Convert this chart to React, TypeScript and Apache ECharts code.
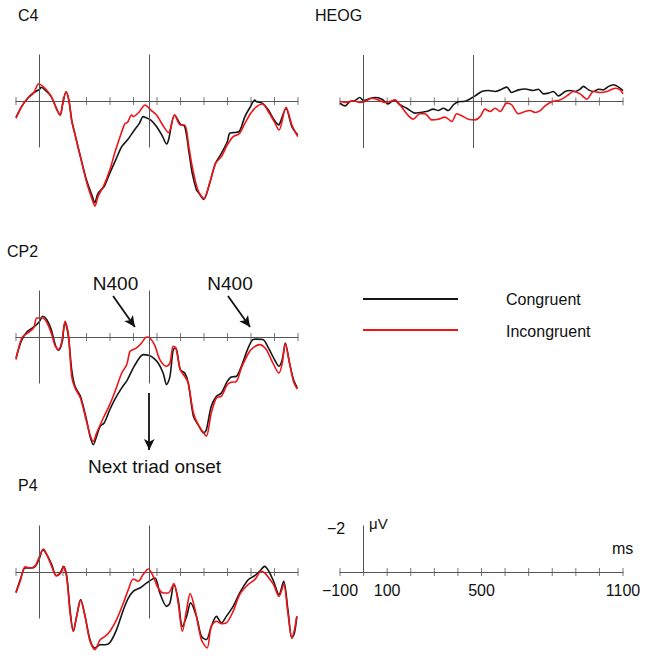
import React, { useEffect, useRef } from "react";
import * as echarts from "echarts";

// ---- data (time in ms, amplitude in µV; negative plotted up) ----
const tickTimes = [-100, 0, 100, 200, 300, 400, 500, 600, 700, 800, 900, 1000, 1100];
const scaleLabels = [-100, 100, 500, 1100];
const triadOnset = 467;
const verticalHalfSpan = 2; // µV

const c4Congruent: [number, number][] = [
  [-100, 0.7], [-75, 0.22], [-51, -0.11], [-25, -0.36], [0, -0.5], [7, -0.59], [24, -0.47], [50, -0.19],
  [75, 0.39], [88, 0.6], [99, 0.1], [113, -0.39], [125, -0.04], [137, 0.82], [150, 1.39], [174, 2.39],
  [200, 3.4], [225, 4.11], [235, 4.37], [249, 3.97], [275, 3.68], [299, 3.11], [324, 2.54], [350, 1.96],
  [374, 1.68], [399, 1.32], [425, 0.96], [441, 0.67], [449, 0.7], [474, 0.82], [498, 1.1], [524, 1.53],
  [541, 1.85], [549, 1.68], [575, 0.6], [599, 0.99], [618, 1.1], [636, 2.2], [650, 3.11], [668, 3.83],
  [674, 3.9], [699, 4.23], [724, 3.54], [749, 2.68], [774, 2.25], [799, 1.75], [809, 1.39], [824, 1.36],
  [849, 1.32], [874, 0.67], [899, 0.22], [916, -0.04], [924, 0.03], [949, 0.1], [974, 0.39], [999, 0.82],
  [1019, 1.03], [1024, 0.93], [1049, 0.32], [1074, 1.1], [1099, 1.46],
];
const c4Incongruent: [number, number][] = [
  [-100, 0.75], [-75, 0.22], [-51, -0.11], [-25, -0.33], [-4, -0.73], [24, -0.54], [50, -0.19], [75, 0.39],
  [88, 0.6], [99, 0.1], [113, -0.4], [125, -0.04], [137, 0.85], [150, 1.39], [174, 2.39], [200, 3.47],
  [225, 4.26], [236, 4.52], [249, 4.11], [275, 3.61], [299, 2.97], [324, 2.11], [350, 1.32], [364, 0.96],
  [374, 0.93], [392, 0.6], [399, 0.67], [425, 0.46], [449, 0.17], [474, 0.39], [498, 0.6], [524, 1.03],
  [549, 1.36], [575, 0.6], [599, 1.03], [618, 1.03], [636, 2.0], [650, 2.82], [674, 3.83], [699, 4.19],
  [724, 3.54], [749, 2.68], [774, 2.39], [799, 1.89], [824, 1.53], [849, 1.42], [874, 0.96], [899, 0.53],
  [924, 0.24], [949, 0.13], [974, 0.46], [999, 0.89], [1019, 1.25], [1049, 0.27], [1074, 1.03], [1099, 1.53],
];

const heogCongruent: [number, number][] = [
  [-100, 0.07], [-79, 0.19], [-58, 0], [-37, -0.04], [-16, -0.17], [0, -0.04], [27, -0.13], [48, -0.17],
  [76, -0.11], [105, 0.1], [119, 0], [133, -0.04], [154, 0.14], [183, 0.29], [218, 0.5], [239, 0.47],
  [267, 0.43], [296, 0.33], [317, 0.39], [338, 0.29], [359, 0.39], [381, 0.14], [402, 0.01], [430, -0.01],
  [451, -0.11], [473, -0.24], [501, -0.43], [529, -0.47], [558, -0.43], [586, -0.53], [607, -0.62],
  [628, -0.39], [657, -0.5], [685, -0.54], [720, -0.47], [741, -0.53], [763, -0.33], [784, -0.36],
  [805, -0.43], [826, -0.24], [855, -0.43], [876, -0.47], [897, -0.43], [918, -0.53], [932, -0.65],
  [954, -0.5], [975, -0.43], [996, -0.53], [1017, -0.5], [1039, -0.65], [1060, -0.72], [1081, -0.62], [1100, -0.47],
];
const heogIncongruent: [number, number][] = [
  [-100, 0], [-72, 0.04], [-44, -0.03], [-16, 0.04], [6, 0], [34, -0.14], [62, -0.07], [91, 0.04],
  [112, 0], [133, -0.07], [154, 0.14], [183, 0.53], [211, 0.76], [239, 0.53], [260, 0.53], [289, 0.79],
  [317, 0.76], [345, 0.67], [374, 0.86], [395, 0.53], [423, 0.65], [444, 0.76], [473, 0.79], [494, 0.65],
  [515, 0.33], [536, 0.43], [558, 0.29], [579, 0.43], [607, 0.07], [628, 0.14], [657, 0.53], [685, 0.43],
  [706, 0.39], [727, 0.47], [749, 0.39], [770, 0.19], [798, 0.01], [833, -0.07], [862, -0.24], [890, -0.43],
  [918, -0.33], [947, -0.1], [975, -0.43], [1003, -0.39], [1032, -0.43], [1067, -0.57], [1088, -0.5], [1100, -0.33],
];

const cp2Congruent: [number, number][] = [
  [-100, 0.9], [-75, 0.11], [-51, -0.24], [-25, -0.42], [0, -0.67], [14, -0.89], [31, -0.75], [50, -0.32],
  [67, 0.33], [81, 0.57], [95, 0.26], [109, -0.63], [123, -0.03], [137, 1.41], [151, 2.12], [174, 2.55],
  [200, 3.56], [215, 4.27], [229, 4.63], [243, 4.27], [258, 3.84], [275, 3.7], [299, 3.13], [324, 2.62],
  [350, 2.19], [374, 1.84], [399, 1.33], [425, 0.9], [441, 0.76], [467, 0.8], [484, 0.9], [505, 1.12],
  [526, 1.55], [541, 2.05], [555, 1.7], [569, 0.54], [580, 0.47], [599, 1.41], [618, 1.55], [633, 1.98],
  [655, 3.41], [675, 3.77], [699, 4.13], [710, 3.99], [731, 2.98], [753, 2.55], [774, 2.41], [799, 1.91],
  [816, 1.72], [838, 1.69], [859, 1.26], [888, 0.47], [908, 0.11], [923, 0.09], [951, 0.11], [974, 0.47],
  [1000, 0.97], [1019, 1.26], [1033, 0.97], [1046, 0.26], [1064, 1.12], [1081, 1.84], [1097, 2.19],
];
const cp2Incongruent: [number, number][] = [
  [-100, 0.97], [-75, 0.04], [-51, -0.17], [-25, -0.39], [-11, -0.82], [14, -0.82], [31, -0.63], [50, -0.17],
  [67, 0.4], [81, 0.54], [95, 0.19], [109, -0.67], [123, -0.1], [137, 1.69], [151, 2.19], [174, 2.62],
  [200, 3.63], [215, 4.2], [229, 4.49], [243, 4.13], [275, 3.41], [299, 2.91], [324, 2.27], [350, 1.55],
  [371, 1.19], [385, 0.62], [399, 0.54], [413, 0.47], [434, 0.26], [456, 0], [470, 0.04], [491, 0.37],
  [512, 0.97], [541, 1.26], [555, 1.12], [569, 0.4], [580, 0.47], [599, 1.41], [618, 1.69], [633, 1.98],
  [655, 3.27], [675, 3.77], [699, 4.13], [710, 4.27], [731, 3.27], [753, 2.62], [774, 2.55], [799, 2.05],
  [816, 1.95], [838, 1.91], [859, 1.33], [888, 0.72], [908, 0.47], [937, 0.33], [965, 0.54], [986, 0.97],
  [1019, 1.55], [1033, 1.12], [1046, 0.29], [1064, 1.12], [1081, 1.91], [1097, 2.24],
];

const p4Congruent: [number, number][] = [
  [-100, 0.87], [-82, 0.33], [-61, -0.17], [-40, -0.17], [-18, -0.24], [0, -0.6], [14, -0.96], [31, -0.75],
  [52, -0.32], [71, 0.16], [88, 0.04], [102, -0.24], [116, 0.19], [130, 1.62], [144, 2.55], [158, 1.91],
  [175, 1.19], [194, 1.91], [215, 2.91], [236, 3.27], [258, 3.13], [279, 3.13], [300, 3.03], [328, 2.48],
  [357, 1.62], [378, 1.12], [399, 0.83], [427, 0.69], [456, 0.47], [491, 0.26], [512, 0.9], [541, 1.48],
  [555, 1.33], [572, 0.54], [590, 1.19], [608, 2.34], [626, 1.91], [643, 1.33], [668, 1.91], [689, 2.77],
  [710, 2.91], [731, 2.34], [753, 1.91], [774, 2.19], [795, 1.91], [824, 1.48], [852, 0.9], [888, 0.33],
  [916, 0.16], [937, -0.03], [958, -0.24], [976, -0.03], [996, 0.4], [1019, 0.97], [1039, 0.4], [1057, 1.62],
  [1074, 2.84], [1085, 2.62], [1095, 1.91],
];
const p4Incongruent: [number, number][] = [
  [-100, 0.9], [-82, 0.4], [-61, -0.22], [-40, -0.17], [-18, -0.27], [0, -0.67], [17, -0.99], [31, -0.75],
  [52, -0.24], [71, 0.16], [88, 0.07], [102, -0.22], [116, 0.26], [130, 1.76], [144, 2.55], [158, 1.91],
  [175, 1.22], [194, 1.91], [215, 2.98], [236, 3.34], [258, 2.91], [279, 2.77], [300, 2.55], [328, 2.05],
  [357, 1.33], [378, 0.76], [399, 0.3], [420, 0.4], [441, 0.11], [463, -0.13], [484, 0.19], [505, 0.69],
  [527, 0.9], [548, 0.9], [572, 0.5], [590, 1.33], [608, 2.55], [626, 1.62], [641, 0.93], [662, 1.62],
  [689, 2.91], [713, 3.27], [731, 2.34], [753, 2.12], [774, 2.22], [795, 2.19], [824, 1.69], [852, 0.97],
  [888, 0.54], [916, 0.33], [944, -0.03], [958, 0.04], [976, 0.26], [996, 0.54], [1019, 1.05], [1039, 0.54],
  [1057, 1.76], [1074, 2.84], [1085, 2.48], [1095, 1.91],
];

// arrows in CP2 panel: [tStart, vStart, tEnd, vEnd]
const cp2Arrows: [number, number, number, number][] = [
  [313, -1.76, 406, -0.43],
  [802, -1.76, 896, -0.43],
  [467, 2.41, 467, 4.86],
];

// ---- layout ----
const K = 23.25; // px per µV
const FONT = '"Liberation Sans", Arial, Helvetica, sans-serif';
const AXIS_COLOR = "#555";
const BLACK = "#161616";
const RED = "#f01418";

type Panel = {
  name: string;
  cong?: [number, number][];
  incong?: [number, number][];
  x0: number;
  x1: number;
  axisY: number;
  yMin: number;
  yMax: number;
  scale?: boolean;
};

const panels: Panel[] = [
  { name: "C4", cong: c4Congruent, incong: c4Incongruent, x0: 16, x1: 298, axisY: 101, yMin: -2.5, yMax: 5 },
  { name: "HEOG", cong: heogCongruent, incong: heogIncongruent, x0: 340, x1: 623, axisY: 101.5, yMin: -2.5, yMax: 2.5 },
  { name: "CP2", cong: cp2Congruent, incong: cp2Incongruent, x0: 16, x1: 298, axisY: 337, yMin: -2.5, yMax: 5.5 },
  { name: "P4", cong: p4Congruent, incong: p4Incongruent, x0: 16, x1: 298, axisY: 572, yMin: -2.5, yMax: 3.6 },
  { name: "scale", x0: 340, x1: 623, axisY: 572, yMin: -2.5, yMax: 0, scale: true },
];

function buildOption() {
  const grid = panels.map((p) => ({
    left: p.x0,
    top: p.axisY + p.yMin * K,
    width: p.x1 - p.x0,
    height: (p.yMax - p.yMin) * K,
    containLabel: false,
    outerBoundsMode: "none",
  }));
  const xAxis = panels.map((p, i) => ({
    type: "value",
    gridIndex: i,
    min: -100,
    max: 1100,
    axisLine: { show: true, onZero: true, lineStyle: { color: AXIS_COLOR, width: 1 } },
    axisTick: { show: false },
    splitLine: { show: false },
    axisLabel: p.scale
      ? {
          show: true,
          customValues: scaleLabels,
          formatter: (v: number) => String(v).replace("-", "\u2212"),
          fontSize: 16,
          fontFamily: FONT,
          color: "#111",
          margin: 10,
        }
      : { show: false },
  }));
  const yAxis = panels.map((p, i) => ({
    type: "value",
    gridIndex: i,
    inverse: true,
    min: p.yMin,
    max: p.yMax,
    show: false,
    splitLine: { show: false },
  }));

  const series: any[] = [];
  panels.forEach((p, i) => {
    const vlines = p.scale
      ? [[{ coord: [0, 0] }, { coord: [0, -verticalHalfSpan] }]]
      : [
          [{ coord: [0, -verticalHalfSpan] }, { coord: [0, verticalHalfSpan] }],
          [{ coord: [triadOnset, -verticalHalfSpan] }, { coord: [triadOnset, verticalHalfSpan] }],
        ];
    series.push({
      type: "scatter",
      xAxisIndex: i,
      yAxisIndex: i,
      data: tickTimes.map((t) => [t, 0]),
      symbol: "rect",
      symbolSize: [1, 8],
      itemStyle: { color: AXIS_COLOR },
      silent: true,
      clip: false,
      z: 1,
      markLine: {
        silent: true,
        symbol: ["none", "none"],
        label: { show: false },
        lineStyle: { color: AXIS_COLOR, width: 1, type: "solid" },
        data: vlines,
      },
    });
    if (p.cong && p.incong) {
      series.push({
        name: "Congruent",
        type: "line",
        xAxisIndex: i,
        yAxisIndex: i,
        data: p.cong,
        showSymbol: false,
        smooth: 0.3,
        lineStyle: { color: BLACK, width: 1.6 },
        itemStyle: { color: BLACK },
        z: 3,
      });
      series.push({
        name: "Incongruent",
        type: "line",
        xAxisIndex: i,
        yAxisIndex: i,
        data: p.incong,
        showSymbol: false,
        smooth: 0.3,
        lineStyle: { color: RED, width: 1.6 },
        itemStyle: { color: RED },
        z: 4,
      });
    }
  });

  // annotation arrows in CP2 (grid index 2)
  series.push({
    type: "scatter",
    xAxisIndex: 2,
    yAxisIndex: 2,
    data: cp2Arrows.map((a) => [a[0], a[1]]),
    symbolSize: 0,
    silent: true,
    z: 5,
    markLine: {
      silent: true,
      symbol: ["none", "arrow"],
      symbolSize: [8, 11],
      label: { show: false },
      lineStyle: { color: "#111", width: 1.8, type: "solid" },
      data: cp2Arrows.map((a) => [{ coord: [a[0], a[1]] }, { coord: [a[2], a[3]] }]),
    },
  });

  const txt = (text: string, x: number, y: number, size: number, align = "left", valign = "middle") => ({
    type: "text",
    x,
    y,
    silent: true,
    style: {
      text,
      fill: "#111",
      fontSize: size,
      fontFamily: FONT,
      textAlign: align,
      textVerticalAlign: valign,
    },
  });

  const graphic = [
    txt("C4", 18, 15, 16),
    txt("HEOG", 315, 15, 16),
    txt("CP2", 7, 251, 16),
    txt("P4", 18, 485, 16),
    txt("N400", 115.5, 283, 19, "center"),
    txt("N400", 230, 283, 19, "center"),
    txt("Next triad onset", 154.5, 466, 19, "center"),
    {
      type: "line",
      silent: true,
      shape: { x1: 363, y1: 299, x2: 458, y2: 299 },
      style: { stroke: BLACK, lineWidth: 2 },
    },
    {
      type: "line",
      silent: true,
      shape: { x1: 363, y1: 330, x2: 458, y2: 330 },
      style: { stroke: RED, lineWidth: 2 },
    },
    txt("Congruent", 506, 299, 16),
    txt("Incongruent", 506, 331, 16),
    txt("\u22122", 327, 528, 16),
    txt("\u03bcV", 369, 523, 15),
    txt("ms", 612, 548, 16),
  ];

  return {
    animation: false,
    backgroundColor: "#fff",
    grid,
    xAxis,
    yAxis,
    series,
    graphic,
  };
}

export default function App() {
  const ref = useRef<HTMLDivElement>(null);
  useEffect(() => {
    if (!ref.current) return;
    const chart = echarts.init(ref.current, undefined, { renderer: "svg" });
    chart.setOption(buildOption() as any);
    return () => chart.dispose();
  }, []);
  return (
    <div
      ref={ref}
      style={{ position: "absolute", left: 0, top: 0, width: 649, height: 660, background: "#fff" }}
    />
  );
}
